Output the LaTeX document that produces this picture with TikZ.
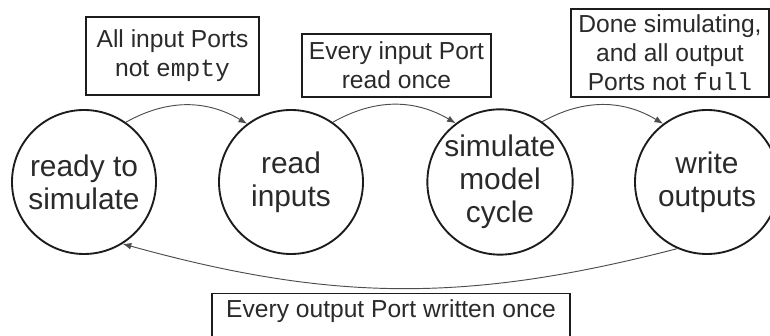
\documentclass[tikz,border=0pt]{standalone}
\usepackage{fontspec}
\setmainfont{Liberation Sans}
\setmonofont{Liberation Mono}
\usepackage{tikz}
\usetikzlibrary{arrows.meta}
\definecolor{statedraw}{HTML}{1C1C1C}
\definecolor{edgecolor}{HTML}{4D4D4D}
\definecolor{textcolor}{HTML}{2A2A2A}
\tikzset{
  >=Latex,
  state/.style={
    circle,
    draw=statedraw,
    line width=1.6pt,
    minimum size=4.32cm,
    inner sep=0pt,
    align=center,
    text=textcolor,
    font=\fontsize{25.5}{28}\selectfont
  },
  guard/.style={
    rectangle,
    draw=statedraw,
    line width=1.1pt,
    inner sep=0pt,
    align=center,
    text=textcolor,
    font=\fontsize{21}{24.6}\selectfont
  },
  transition/.style={
    draw=edgecolor,
    line width=0.8pt,
    -{Latex[length=2.6mm,width=2mm]}
  }
}
\newcommand{\connectstates}[1]{%
  \foreach \a/\b in {#1}{
    \draw[transition] (S-\a.55) to[bend left=30] (S-\b.127);
  }
}

\begin{document}
\begin{tikzpicture}[x=0.03cm,y=0.03cm]
  \useasboundingbox (0,0) rectangle (770,336);

  \node[state] (S-1) at (84,154) {ready to\\simulate};
  \node[state] (S-2) at (291,154) {read\\inputs};
  \node[state] (S-3) at (500,154) {simulate\\model\\cycle};
  \node[state] (S-4) at (707,154) {write\\outputs};

  \connectstates{1/2,2/3,3/4}
  \draw[transition] (S-4.246) to[bend left=15] (S-1.302);

  \node[guard,minimum width=5.19cm,minimum height=2.34cm] (G-1) at (172.5,280)
    {All input Ports\\not \texttt{empty}};
  \node[guard,minimum width=5.67cm,minimum height=1.89cm] (G-2) at (396.5,270.5)
    {Every input Port\\read once};
  \node[guard,minimum width=5.94cm,minimum height=2.64cm] (G-3) at (670,283)
    {Done simulating,\\and all output\\Ports not \texttt{full}};
  \node[guard,anchor=north,minimum width=10.74cm,inner ysep=4pt,
    text height=16pt,text depth=30pt] (G-4) at (391,43)
    {Every output Port written once};
\end{tikzpicture}
\end{document}
